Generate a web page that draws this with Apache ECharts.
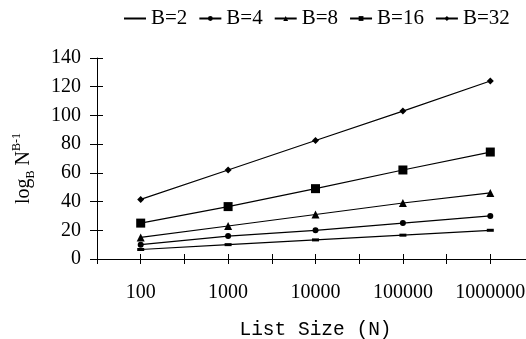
<!DOCTYPE html>
<html>
<head>
<meta charset="utf-8">
<script src="https://cdn.jsdelivr.net/npm/echarts@6/dist/echarts.min.js"></script>
<style>
  html, body { margin: 0; padding: 0; background: #fff; }
  #chart { width: 526px; height: 339px; }
</style>
</head>
<body>
<div id="chart"></div>
<script>
// list sizes shown on the x axis
const listSizes = ['100', '1000', '10000', '100000', '1000000'];
const seriesNames = ['B=2', 'B=4', 'B=8', 'B=16', 'B=32'];

// log_B N^(B-1)
const b2 = [6.6, 10, 13.3, 16.6, 20];
const b4 = [10, 16, 20, 25, 30];
const b8 = [15, 23, 31, 39, 46];
const b16 = [25, 36.5, 49, 62, 74.5];
const b32 = [41.5, 62, 82.5, 103, 124];

const yTicks = { min: 0, max: 140, step: 20 };

const serif = 'Liberation Serif, Times New Roman, serif';
const mono = 'Liberation Mono, Courier New, monospace';

const chart = echarts.init(document.getElementById('chart'), null, { renderer: 'canvas' });

const toPoints = arr => arr.map((v, i) => [i + 1, v]);

const markers = [
  { symbol: 'rect', size: [7, 3] },
  { symbol: 'circle', size: 6 },
  { symbol: 'triangle', size: 8 },
  { symbol: 'rect', size: 9 },
  { symbol: 'diamond', size: 7 },
];
const values = [b2, b4, b8, b16, b32];

const xLabel = v => {
  const i = Math.round(v);
  return Math.abs(v - i) < 1e-6 && i >= 1 && i <= listSizes.length ? listSizes[i - 1] : '';
};

const xBase = {
  type: 'value',
  min: 0.5,
  max: 5.5,
  interval: 0.5,
  splitLine: { show: false },
};
const yBase = {
  type: 'value',
  min: yTicks.min,
  max: yTicks.max,
  interval: yTicks.step,
  splitLine: { show: false },
};

chart.setOption({
  animation: false,
  backgroundColor: '#fff',
  textStyle: { fontFamily: serif },
  legend: {
    top: 3,
    left: 118,
    itemWidth: 22,
    itemHeight: 6,
    itemGap: 11,
    textStyle: { fontFamily: serif, fontSize: 21, color: '#000' },
    data: seriesNames.map((n, k) => (k === 0 ? { name: n, itemStyle: { opacity: 0 } } : { name: n })),
  },
  grid: { left: 97, right: -8, top: 58, bottom: 80, outerBoundsMode: 'none', containLabel: false },
  xAxis: [
    Object.assign({}, xBase, {
      position: 'bottom',
      axisLine: { lineStyle: { color: '#000', width: 1 } },
      axisTick: { show: true, inside: false, length: 5, lineStyle: { color: '#000' } },
      axisLabel: {
        formatter: xLabel,
        color: '#000',
        fontFamily: serif,
        fontSize: 20,
        margin: 24,
      },
      name: 'List Size (N)',
      nameLocation: 'middle',
      nameGap: 61,
      nameTextStyle: { fontFamily: mono, fontSize: 19.5, color: '#000' },
    }),
    Object.assign({}, xBase, {
      position: 'bottom',
      axisLine: { show: false },
      axisTick: { show: true, inside: true, length: 5, lineStyle: { color: '#000' } },
      axisLabel: { show: false },
    }),
  ],
  yAxis: [
    Object.assign({}, yBase, {
      axisLine: { show: true, lineStyle: { color: '#000', width: 1 } },
      axisTick: { show: true, inside: false, length: 7, lineStyle: { color: '#000' } },
      axisLabel: { color: '#000', fontFamily: serif, fontSize: 20, margin: 16 },
      name: '{a|log}{sub|B}{a| N}{sup|B-1}',
      nameLocation: 'middle',
      nameGap: 60,
      nameRotate: 90,
      nameTextStyle: {
        color: '#000',
        padding: [0, 20, 0, 0],
        rich: {
          a: { fontFamily: serif, fontSize: 20, color: '#000', lineHeight: 26, verticalAlign: 'middle' },
          sub: { fontFamily: serif, fontSize: 12, color: '#000', lineHeight: 26, verticalAlign: 'bottom' },
          sup: { fontFamily: serif, fontSize: 12, color: '#000', lineHeight: 26, verticalAlign: 'top' },
        },
      },
    }),
    Object.assign({}, yBase, {
      position: 'left',
      axisLine: { show: false },
      axisTick: { show: true, inside: true, length: 6, lineStyle: { color: '#000' } },
      axisLabel: { show: false },
    }),
  ],
  series: seriesNames.map((name, k) => ({
    name: name,
    type: 'line',
    xAxisIndex: 0,
    yAxisIndex: 0,
    data: toPoints(values[k]),
    symbol: markers[k].symbol,
    symbolSize: markers[k].size,
    showAllSymbol: true,
    lineStyle: { color: '#000', width: 1.2 },
    itemStyle: { color: '#000' },
  })),
});
</script>
</body>
</html>
